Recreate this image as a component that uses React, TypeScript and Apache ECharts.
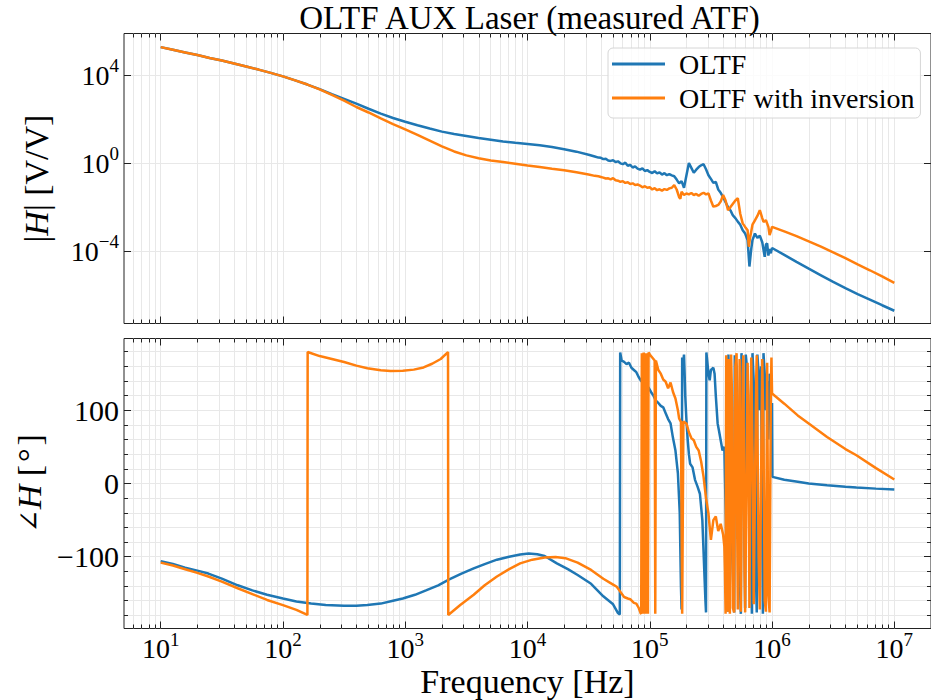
import React, { useEffect, useRef } from "react";
import * as echarts from "echarts";

// ---------- axis ranges (log10 Hz, log10 |H|, degrees) ----------
const X_MIN = 0.7;
const X_MAX = 7.3;
const MAG_MIN = -7.29;
const MAG_MAX = 5.89;
const PH_MIN = -198;
const PH_MAX = 198;

// ---------- tick values ----------
const xMajorTicks = [1, 2, 3, 4, 5, 6, 7]; // decades of Hz
const xMinorMultipliers = [2, 3, 4, 5, 6, 7, 8, 9];
const xDecades = [0, 1, 2, 3, 4, 5, 6, 7];
const magTicks = [-4, 0, 4]; // decades of V/V
const phaseMajorTicks = [-100, 0, 100];
const phaseMinorTicks = [-180, -160, -140, -120, -80, -60, -40, -20, 20, 40, 60, 80, 120, 140, 160, 180];

// ---------- series: [log10(f / Hz), log10 |H|] ----------
const magOltf: [number, number][] = [
  [1.0, 5.27], [1.1, 5.15], [1.2, 5.03], [1.3, 4.91], [1.4, 4.78], [1.5, 4.66], [1.6, 4.53], [1.7, 4.39],
  [1.8, 4.25], [1.9, 4.1], [2.0, 3.94], [2.1, 3.76], [2.2, 3.57], [2.3, 3.36], [2.4, 3.13], [2.5, 2.92],
  [2.6, 2.7], [2.7, 2.47], [2.8, 2.25], [2.9, 2.05], [3.0, 1.88], [3.1, 1.72], [3.2, 1.57], [3.3, 1.43],
  [3.4, 1.32], [3.5, 1.23], [3.6, 1.14], [3.7, 1.06], [3.8, 0.98], [3.9, 0.92], [4.0, 0.87], [4.1, 0.81],
  [4.2, 0.73], [4.3, 0.63], [4.4, 0.52], [4.5, 0.38], [4.55, 0.3], [4.58, 0.25], [4.6, 0.24], [4.62, 0.18],
  [4.64, 0.2], [4.66, 0.12], [4.68, 0.1], [4.7, 0.13], [4.72, 0.05], [4.74, 0.08], [4.76, -0.01], [4.78, -0.05],
  [4.8, 0.02], [4.82, -0.12], [4.84, -0.08], [4.86, -0.2], [4.88, -0.15], [4.9, -0.25], [4.92, -0.3], [4.94, -0.24],
  [4.96, -0.36], [4.98, -0.32], [5.0, -0.4], [5.02, -0.45], [5.04, -0.37], [5.06, -0.47], [5.08, -0.42], [5.1, -0.52],
  [5.12, -0.46], [5.14, -0.55], [5.16, -0.5], [5.18, -0.56], [5.2, -0.6], [5.22, -0.75], [5.24, -0.92], [5.26, -0.82],
  [5.28, -1.12], [5.3, -0.55], [5.32, 0.0], [5.34, -0.22], [5.36, -0.44], [5.38, -0.3], [5.4, -0.18], [5.42, -0.1],
  [5.44, -0.05], [5.46, -0.28], [5.48, -0.55], [5.5, -0.72], [5.52, -0.9], [5.54, -0.85], [5.56, -1.2], [5.58, -1.35],
  [5.6, -1.55], [5.62, -1.78], [5.64, -2.0], [5.66, -2.15], [5.68, -2.38], [5.7, -2.5], [5.72, -2.66], [5.74, -2.8],
  [5.76, -3.05], [5.78, -3.2], [5.8, -3.5], [5.815, -4.7], [5.83, -3.9], [5.84, -3.5], [5.86, -3.2], [5.88, -3.4],
  [5.9, -3.3], [5.92, -3.6], [5.94, -4.26], [5.95, -3.7], [5.96, -3.65], [5.97, -4.2], [5.98, -3.9], [5.99, -4.1],
  [6.0, -3.86], [6.1, -4.17], [6.2, -4.49], [6.3, -4.8], [6.4, -5.1], [6.5, -5.4], [6.6, -5.68], [6.7, -5.95],
  [6.8, -6.2], [6.9, -6.46], [7.0, -6.71],
];

const magInv: [number, number][] = [
  [1.0, 5.27], [1.1, 5.15], [1.2, 5.03], [1.3, 4.91], [1.4, 4.78], [1.5, 4.66], [1.6, 4.53], [1.7, 4.39],
  [1.8, 4.25], [1.9, 4.1], [2.0, 3.94], [2.1, 3.76], [2.2, 3.57], [2.3, 3.35], [2.4, 3.1], [2.5, 2.84],
  [2.6, 2.55], [2.7, 2.3], [2.8, 2.03], [2.9, 1.77], [3.0, 1.53], [3.1, 1.28], [3.2, 1.02], [3.3, 0.76],
  [3.4, 0.53], [3.5, 0.35], [3.6, 0.22], [3.7, 0.12], [3.8, 0.05], [3.9, -0.03], [4.0, -0.11], [4.1, -0.18],
  [4.2, -0.26], [4.3, -0.33], [4.4, -0.42], [4.5, -0.52], [4.55, -0.58], [4.58, -0.6], [4.6, -0.63], [4.62, -0.66],
  [4.64, -0.7], [4.66, -0.69], [4.68, -0.74], [4.7, -0.68], [4.72, -0.78], [4.74, -0.8], [4.76, -0.85], [4.78, -0.82],
  [4.8, -0.9], [4.82, -0.87], [4.84, -0.95], [4.86, -0.92], [4.88, -1.0], [4.9, -0.97], [4.92, -1.02], [4.94, -1.1],
  [4.96, -1.05], [4.98, -1.12], [5.0, -1.1], [5.02, -1.2], [5.04, -1.14], [5.06, -1.23], [5.08, -1.19], [5.1, -1.25],
  [5.12, -1.18], [5.14, -1.22], [5.16, -1.15], [5.18, -1.12], [5.2, -1.0], [5.22, -1.2], [5.24, -1.55], [5.25, -1.62],
  [5.26, -1.3], [5.28, -1.45], [5.3, -1.38], [5.32, -1.42], [5.34, -1.36], [5.36, -1.45], [5.38, -1.4], [5.4, -1.48],
  [5.42, -1.4], [5.44, -1.35], [5.46, -1.42], [5.48, -1.38], [5.5, -1.7], [5.52, -1.98], [5.54, -1.95], [5.56, -1.9],
  [5.58, -1.75], [5.6, -1.45], [5.62, -1.7], [5.64, -2.14], [5.66, -2.0], [5.68, -1.85], [5.7, -1.7], [5.72, -1.6],
  [5.74, -2.3], [5.76, -2.74], [5.78, -2.9], [5.8, -3.05], [5.81, -3.8], [5.82, -3.4], [5.84, -2.8], [5.86, -2.6],
  [5.88, -2.4], [5.9, -2.14], [5.92, -2.5], [5.93, -2.67], [5.95, -2.6], [5.97, -2.9], [5.98, -3.27], [5.99, -3.1],
  [6.0, -2.9], [6.1, -3.1], [6.2, -3.32], [6.3, -3.56], [6.4, -3.8], [6.5, -4.06], [6.6, -4.32], [6.7, -4.6],
  [6.8, -4.87], [6.9, -5.15], [7.0, -5.44],
];

// ---------- series: [log10(f / Hz), phase in degrees] ----------
const phaseOltf: [number, number][] = [
  [1.0, -106], [1.1, -110], [1.2, -115], [1.3, -119], [1.39, -123], [1.5, -130], [1.63, -139], [1.75, -146],
  [1.87, -152], [2.0, -157], [2.11, -161], [2.23, -164], [2.35, -166], [2.5, -167], [2.6, -167], [2.69, -166],
  [2.8, -164], [2.9, -160], [2.98, -157], [3.08, -152], [3.17, -146], [3.27, -139], [3.36, -131], [3.46, -123],
  [3.56, -116], [3.65, -110], [3.75, -104], [3.85, -100], [3.94, -97], [4.01, -95.5], [4.08, -96.5], [4.14, -99],
  [4.24, -109], [4.33, -117], [4.41, -125], [4.52, -137], [4.62, -154], [4.7, -165], [4.74, -177], [4.755, -179],
  [4.758, 179], [4.77, 168], [4.79, 166], [4.81, 163], [4.83, 165], [4.85, 158], [4.87, 155], [4.89, 152],
  [4.91, 145], [4.93, 140], [4.95, 137], [4.97, 133], [4.99, 131], [5.01, 125], [5.03, 120], [5.05, 113],
  [5.07, 110], [5.09, 106], [5.11, 104], [5.13, 96], [5.15, 88], [5.17, 82], [5.19, 62], [5.21, 45],
  [5.23, 14], [5.245, -40], [5.255, -140], [5.26, -172], [5.265, 172], [5.27, 160], [5.28, 176], [5.285, 150],
  [5.29, 120], [5.3, 86], [5.31, 60], [5.32, 40], [5.33, 27], [5.35, 22], [5.37, 5], [5.39, -4],
  [5.41, -14], [5.43, -50], [5.455, -159], [5.46, -176], [5.463, 179], [5.48, 150], [5.49, 141], [5.5, 155],
  [5.52, 158], [5.53, 150], [5.54, 120], [5.555, 82], [5.565, 73], [5.58, 59], [5.595, 45], [5.61, 50],
  [5.62, -32], [5.63, -120], [5.64, -175], [5.643, 176], [5.655, 120], [5.66, 40], [5.675, -100], [5.69, -176],
  [5.695, 175], [5.71, 160], [5.72, 80], [5.73, -60], [5.74, -150], [5.745, -178], [5.75, 178], [5.76, 130],
  [5.77, -20], [5.78, -170], [5.785, 176], [5.8, 150], [5.81, 90], [5.82, -40], [5.83, -120], [5.835, -178],
  [5.84, 178], [5.85, 140], [5.86, 40], [5.87, -140], [5.875, -176], [5.88, 176], [5.89, 150], [5.9, 100],
  [5.91, 160], [5.92, -60], [5.925, -178], [5.93, 178], [5.94, 150], [5.95, 100], [5.96, 140], [5.97, 60],
  [5.98, 150], [5.99, 90], [6.0, 110], [6.003, 9], [6.1, 5], [6.21, 2.3], [6.3, 0], [6.45, -2.3],
  [6.6, -4.5], [6.69, -5.5], [6.85, -7], [7.0, -8.2],
];

const phaseInv: [number, number][] = [
  [1.0, -108], [1.1, -112], [1.2, -117], [1.3, -122], [1.39, -127], [1.5, -134], [1.63, -143], [1.75, -151],
  [1.87, -159], [2.0, -166], [2.11, -172.5], [2.2, -179.5], [2.202, 179.5], [2.3, 174], [2.4, 170], [2.5, 166],
  [2.6, 161], [2.69, 157.5], [2.8, 154.5], [2.88, 153.5], [2.98, 154], [3.07, 155.5], [3.15, 158.5], [3.22, 163.5],
  [3.29, 170], [3.35, 179.5], [3.352, -179.5], [3.45, -166], [3.56, -152], [3.65, -139], [3.75, -127], [3.85, -117],
  [3.94, -109], [4.04, -104], [4.14, -101], [4.23, -100.5], [4.31, -102], [4.41, -108], [4.52, -118], [4.62, -130],
  [4.7, -138], [4.73, -141], [4.76, -148], [4.79, -155], [4.82, -157], [4.84, -158], [4.87, -163], [4.89, -164],
  [4.91, -170], [4.925, -177], [4.93, -178], [4.935, 178], [4.94, 160], [4.945, -178], [4.95, 179], [4.955, -170],
  [4.96, 175], [4.965, -178], [4.97, 178], [4.975, -175], [4.98, 170], [4.985, -178], [4.99, 179], [5.0, 176],
  [5.02, 172], [5.04, 168], [5.045, -178], [5.05, 168], [5.07, 155], [5.09, 150], [5.11, 142], [5.13, 139],
  [5.15, 130], [5.17, 138], [5.19, 125], [5.21, 116], [5.23, 100], [5.24, 89], [5.255, 84], [5.265, -178],
  [5.275, 85], [5.28, 84], [5.3, 82], [5.32, 70], [5.34, 62], [5.36, 59], [5.38, 50], [5.4, 45],
  [5.42, 30], [5.44, 9], [5.46, -20], [5.48, -41], [5.5, -77], [5.52, -50], [5.54, -45], [5.56, -65],
  [5.58, -55], [5.6, -70], [5.61, -86], [5.615, -120], [5.62, -178], [5.625, 175], [5.63, 60], [5.635, -175],
  [5.645, 170], [5.655, -178], [5.665, 176], [5.675, 100], [5.68, -170], [5.69, -176], [5.7, 160], [5.71, 178],
  [5.715, -60], [5.72, -172], [5.735, 170], [5.745, -175], [5.76, 150], [5.765, 175], [5.775, -120], [5.78, -176],
  [5.8, 165], [5.805, 120], [5.815, -170], [5.83, 172], [5.845, -20], [5.85, -165], [5.87, 140], [5.875, 175],
  [5.89, -100], [5.9, -172], [5.92, 170], [5.93, 60], [5.94, -160], [5.95, -175], [5.96, 165], [5.97, -150],
  [5.98, -176], [5.99, 120], [5.995, 172], [6.0, 123], [6.1, 109], [6.21, 93], [6.3, 82], [6.45, 63.6],
  [6.6, 47], [6.69, 38.6], [6.85, 21], [7.0, 5.5],
];

const SERIES_NAMES = ["OLTF", "OLTF with inversion"];
const TITLE = "OLTF AUX Laser (measured ATF)";
const X_NAME = "Frequency [Hz]";

// ---------- styling ----------
const FONT = '"Liberation Serif", "Times New Roman", serif';
const BLUE = "#1f77b4";
const ORANGE = "#ff7f0e";
const GRID_C = "#e8e8e8";
const TICK_C = "#222";
const GRID_LEFT = 124;
const GRID_WIDTH = 811;

const xMinorTicks: number[] = [];
xDecades.forEach((d) =>
  xMinorMultipliers.forEach((m) => {
    const v = d + Math.log10(m);
    if (v > X_MIN && v < X_MAX) xMinorTicks.push(v);
  })
);

const supRich = {
  b: { fontFamily: FONT, fontSize: 28, color: "#000", lineHeight: 38 },
  s: { fontFamily: FONT, fontSize: 19, color: "#000", verticalAlign: "top", lineHeight: 19 },
};
const powLabel = (v: number) => {
  const n = Math.round(v);
  return `{b|10}{s|${n < 0 ? "\u2212" + -n : n}}`;
};

function xAxesFor(gridIndex: number, withLabels: boolean) {
  const base = {
    type: "value",
    gridIndex,
    min: X_MIN,
    max: X_MAX,
    axisLine: { show: false, onZero: false },
    axisLabel: { show: false },
    splitLine: { show: false },
  };
  const tick = (len: number, vals: number[]) => ({
    show: true,
    inside: true,
    length: len,
    customValues: vals,
    lineStyle: { color: TICK_C, width: 1 },
  });
  return [
    {
      ...base,
      position: "bottom",
      axisTick: tick(7, xMajorTicks),
      splitLine: { show: true, lineStyle: { color: GRID_C, width: 1 } },
      axisLabel: withLabels
        ? { show: true, customValues: xMajorTicks, formatter: powLabel, rich: supRich, margin: 1 }
        : { show: false },
      name: withLabels ? X_NAME : "",
      nameLocation: "middle",
      nameGap: 36,
      nameTextStyle: { fontFamily: FONT, fontSize: 34, color: "#000" },
    },
    {
      ...base,
      position: "bottom",
      axisTick: tick(4, xMinorTicks),
      splitLine: { show: true, lineStyle: { color: GRID_C, width: 1 } },
    },
    { ...base, position: "top", axisTick: tick(7, xMajorTicks) },
    { ...base, position: "top", axisTick: tick(4, xMinorTicks) },
  ];
}

function yTick(len: number, vals: number[]) {
  return { show: true, inside: true, length: len, customValues: vals, lineStyle: { color: TICK_C, width: 1 } };
}

const nameRich = {
  a: { fontFamily: FONT, fontSize: 34, color: "#000" },
  i: { fontFamily: FONT, fontSize: 34, color: "#000", fontStyle: "italic" },
  g: { fontFamily: '"DejaVu Serif", serif', fontSize: 28, color: "#000" },
};

const yAxes = [
  // grid 0 : magnitude
  {
    type: "value",
    gridIndex: 0,
    position: "left",
    min: MAG_MIN,
    max: MAG_MAX,
    axisLine: { show: false, onZero: false },
    axisTick: yTick(7, magTicks),
    axisLabel: { show: true, customValues: magTicks, formatter: powLabel, rich: supRich, margin: 5 },
    splitLine: { show: true, lineStyle: { color: GRID_C, width: 1 } },
    name: "{a||}{i|H}{a|| [V/V]}",
    nameLocation: "middle",
    nameGap: 71,
    nameRotate: 90,
    nameTextStyle: { rich: nameRich },
  },
  {
    type: "value",
    gridIndex: 0,
    position: "right",
    min: MAG_MIN,
    max: MAG_MAX,
    axisLine: { show: false, onZero: false },
    axisTick: yTick(7, magTicks),
    axisLabel: { show: false },
    splitLine: { show: false },
  },
  // grid 1 : phase
  {
    type: "value",
    gridIndex: 1,
    position: "left",
    min: PH_MIN,
    max: PH_MAX,
    axisLine: { show: false, onZero: false },
    axisTick: yTick(7, phaseMajorTicks),
    axisLabel: {
      show: true,
      customValues: phaseMajorTicks,
      formatter: (v: number) => (v < 0 ? "\u2212" + -v : String(v)),
      fontFamily: FONT,
      fontSize: 30,
      color: "#000",
      margin: 5,
    },
    splitLine: { show: true, lineStyle: { color: GRID_C, width: 1 } },
    name: "{g|\u2220}{i|H}{a| [\u200a\u00b0\u200a]}",
    nameLocation: "middle",
    nameGap: 71,
    nameRotate: 90,
    nameTextStyle: { rich: nameRich },
  },
  {
    type: "value",
    gridIndex: 1,
    position: "left",
    min: PH_MIN,
    max: PH_MAX,
    axisLine: { show: false, onZero: false },
    axisTick: yTick(4, phaseMinorTicks),
    axisLabel: { show: false },
    splitLine: { show: true, lineStyle: { color: GRID_C, width: 1 } },
  },
  {
    type: "value",
    gridIndex: 1,
    position: "right",
    min: PH_MIN,
    max: PH_MAX,
    axisLine: { show: false, onZero: false },
    axisTick: yTick(7, phaseMajorTicks),
    axisLabel: { show: false },
    splitLine: { show: false },
  },
  {
    type: "value",
    gridIndex: 1,
    position: "right",
    min: PH_MIN,
    max: PH_MAX,
    axisLine: { show: false, onZero: false },
    axisTick: yTick(4, phaseMinorTicks),
    axisLabel: { show: false },
    splitLine: { show: false },
  },
];

function lineSeries(name: string, color: string, xAxisIndex: number, yAxisIndex: number, data: [number, number][]) {
  return {
    type: "line",
    name,
    xAxisIndex,
    yAxisIndex,
    data,
    showSymbol: false,
    symbol: "none",
    clip: true,
    lineStyle: { color, width: 2.5 },
    itemStyle: { color },
    emphasis: { disabled: true },
  };
}

export default function App() {
  const ref = useRef<HTMLDivElement>(null);
  useEffect(() => {
    if (!ref.current) return;
    const chart = echarts.init(ref.current, null, { renderer: "svg" });
    const option: any = {
      animation: false,
      backgroundColor: "#fff",
      textStyle: { fontFamily: FONT },
      graphic: [
        {
          type: "text",
          x: GRID_LEFT + GRID_WIDTH / 2,
          y: 18,
          style: {
            text: TITLE,
            fontFamily: FONT,
            fontSize: 33,
            fill: "#000",
            align: "center",
            verticalAlign: "middle",
          },
        },
      ],
      legend: {
        data: SERIES_NAMES.map((n) => ({ name: n, icon: "rect" })),
        orient: "vertical",
        left: 608,
        top: 48,
        itemWidth: 53,
        itemHeight: 3,
        itemGap: 6,
        padding: [2, 6, 6, 4],
        textStyle: { fontFamily: FONT, fontSize: 28, color: "#000", padding: [0, 0, 0, 9] },
        backgroundColor: "rgba(255,255,255,0.8)",
        borderColor: "#d6d6d6",
        borderWidth: 1,
        borderRadius: 5,
        selectedMode: false,
      },
      grid: [
        { left: GRID_LEFT, top: 33.5, width: GRID_WIDTH, height: 290, show: true, borderColor: "#222", borderWidth: 1, backgroundColor: "transparent" },
        { left: GRID_LEFT, top: 338.5, width: GRID_WIDTH, height: 290, show: true, borderColor: "#222", borderWidth: 1, backgroundColor: "transparent" },
      ],
      xAxis: [...xAxesFor(0, false), ...xAxesFor(1, true)],
      yAxis: yAxes,
      series: [
        lineSeries(SERIES_NAMES[0], BLUE, 0, 0, magOltf),
        lineSeries(SERIES_NAMES[1], ORANGE, 0, 0, magInv),
        lineSeries(SERIES_NAMES[0], BLUE, 4, 2, phaseOltf),
        lineSeries(SERIES_NAMES[1], ORANGE, 4, 2, phaseInv),
      ],
    };
    chart.setOption(option);
    return () => chart.dispose();
  }, []);
  return (
    <div
      ref={ref}
      style={{ position: "fixed", left: 0, top: 0, width: 931, height: 700, background: "#fff" }}
    />
  );
}
